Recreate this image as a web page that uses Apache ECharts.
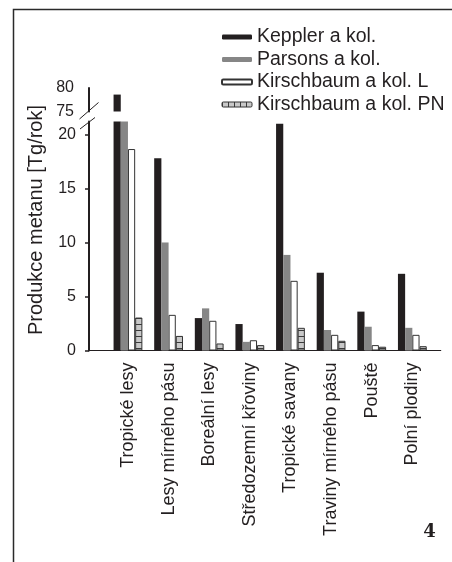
<!DOCTYPE html>
<html>
<head>
<meta charset="utf-8">
<script src="https://cdn.jsdelivr.net/npm/echarts@6/dist/echarts.min.js"></script>
<style>
  html, body { margin: 0; padding: 0; background: #fff; }
  #chart { width: 452px; height: 562px; }
</style>
</head>
<body>
<div id="chart"></div>
<script>
const categories = [
  "Tropické lesy",
  "Lesy mírného pásu",
  "Boreální lesy",
  "Středozemní křoviny",
  "Tropické savany",
  "Traviny mírného pásu",
  "Pouště",
  "Polní plodiny",
];
const keppler = [78.6, 17.8, 3.0, 2.45, 21.0, 7.2, 3.6, 7.1];
const parsons = [21.2, 10.0, 3.9, 0.8, 8.85, 1.9, 2.2, 2.1];
const kirschL = [18.65, 3.3, 2.75, 0.95, 6.45, 1.45, 0.5, 1.45];
const kirschPN = [3.05, 1.35, 0.65, 0.5, 2.1, 0.9, 0.35, 0.4];
const lowTicks = [0, 5, 10, 15, 20];

const FONT = "'Liberation Sans', Arial, sans-serif";
const INK = "#231f20";

// broken y axis: lower part 0..21.2, upper part 75..80
const lowMax = 21.2;
const highMin = 75;
const highMax = 80;

function cellPattern(w, h, vertical) {
  const c = document.createElement("canvas");
  c.width = w;
  c.height = h;
  const ctx = c.getContext("2d");
  ctx.fillStyle = "#c8c8c8";
  ctx.fillRect(0, 0, w, h);
  ctx.fillStyle = "#3a3a3a";
  if (vertical) ctx.fillRect(0, 0, 1, h);
  else ctx.fillRect(0, 0, w, 1);
  return { image: c, repeat: "repeat" };
}

const styles = {
  "Keppler a kol.": { color: INK },
  "Parsons a kol.": { color: "#868686" },
  "Kirschbaum a kol. L": { color: "#ffffff", borderColor: "#333", borderWidth: 1 },
  "Kirschbaum a kol. PN": { color: cellPattern(8, 6, false), borderColor: "#333", borderWidth: 1 },
};

const seriesData = [
  ["Keppler a kol.", keppler],
  ["Parsons a kol.", parsons],
  ["Kirschbaum a kol. L", kirschL],
  ["Kirschbaum a kol. PN", kirschPN],
];

const series = [];
seriesData.forEach(([name, values]) => {
  // lower part of the axis
  series.push({
    name, type: "bar", xAxisIndex: 1, yAxisIndex: 1,
    barWidth: 7.2, barGap: "0%", clip: true, itemStyle: styles[name],
    data: values.map((v, i) => [i, v]),
  });
  // upper part, only values above the break
  series.push({
    name, type: "bar", xAxisIndex: 0, yAxisIndex: 0,
    barWidth: 7.2, barGap: "0%", clip: true, itemStyle: styles[name],
    data: values.map((v, i) => [i, v >= highMin ? v : "-"]),
  });
});

const xMin = -0.959;
const xMax = 7.698;

const chart = echarts.init(document.getElementById("chart"));

const option = {
  animation: false,
  backgroundColor: "#fff",
  textStyle: { fontFamily: FONT },
  grid: [
    { left: 89, right: 11.3, top: 88, height: 23.5 },
    { left: 89, right: 11.3, top: 121.5, height: 229 },
  ],
  xAxis: [
    {
      type: "value", gridIndex: 0, min: xMin, max: xMax,
      axisLine: { show: false, onZero: false },
      axisLabel: { show: false }, axisTick: { show: false }, splitLine: { show: false },
    },
    {
      type: "value", gridIndex: 1, min: xMin, max: xMax,
      splitLine: { show: false },
      axisLine: { show: true, onZero: false, lineStyle: { color: INK, width: 1.2 } },
      axisTick: { show: false },
      axisLabel: {
        customValues: categories.map((c, i) => i),
        formatter: (v) => categories[v] || "",
        rotate: 90, margin: 12, fontSize: 18, color: INK, fontFamily: FONT,
      },
    },
  ],
  yAxis: [
    {
      type: "value", gridIndex: 0, min: highMin, max: highMax, interval: 5, position: "left",
      splitLine: { show: false },
      axisLine: { show: true, onZero: false, lineStyle: { color: INK, width: 2 } },
      axisTick: { show: false },
      axisLabel: { fontSize: 16, margin: 15, color: INK, fontFamily: FONT },
    },
    {
      type: "value", gridIndex: 1, min: 0, max: lowMax, position: "left",
      splitLine: { show: false },
      axisLine: { show: true, onZero: false, lineStyle: { color: INK, width: 2 } },
      axisTick: { show: true, length: 4, customValues: lowTicks, lineStyle: { color: INK, width: 1.5 } },
      axisLabel: { customValues: lowTicks, fontSize: 16, margin: 13, color: INK, fontFamily: FONT },
    },
  ],
  legend: {
    orient: "vertical",
    left: 221,
    top: 27,
    itemWidth: 30,
    itemHeight: 5,
    itemGap: 2.5,
    padding: 0,
    textStyle: { fontSize: 19.5, lineHeight: 20, color: INK, fontFamily: FONT },
    data: [
      { name: "Keppler a kol." },
      { name: "Parsons a kol." },
      { name: "Kirschbaum a kol. L" },
      {
        name: "Kirschbaum a kol. PN",
        itemStyle: { color: cellPattern(6, 6, true), borderColor: "#333", borderWidth: 1 },
      },
    ],
  },
  graphic: [
    {
      type: "rect",
      z: -1,
      shape: { x: 13.5, y: 9.5, width: 700, height: 800 },
      style: { fill: "none", stroke: "#2a2a2a", lineWidth: 1.5 },
      silent: true,
    },
    {
      type: "text",
      x: 36,
      y: 220,
      rotation: Math.PI / 2,
      style: {
        text: "Produkce metanu [Tg/rok]",
        fontSize: 20,
        fontFamily: FONT,
        fill: INK,
        align: "center",
        verticalAlign: "middle",
      },
    },
    {
      type: "line",
      shape: { x1: 79.5, y1: 119, x2: 98.5, y2: 102.5 },
      style: { stroke: INK, lineWidth: 1 },
    },
    {
      type: "line",
      shape: { x1: 80, y1: 129, x2: 95, y2: 117.5 },
      style: { stroke: INK, lineWidth: 1 },
    },
    {
      type: "text",
      x: 429.5,
      y: 532,
      style: {
        text: "4",
        fontSize: 18,
        fontWeight: "bold",
        fontFamily: "'DejaVu Serif', serif",
        fill: INK,
        align: "center",
        verticalAlign: "middle",
      },
    },
  ],
  series,
};

chart.setOption(option);
</script>
</body>
</html>
